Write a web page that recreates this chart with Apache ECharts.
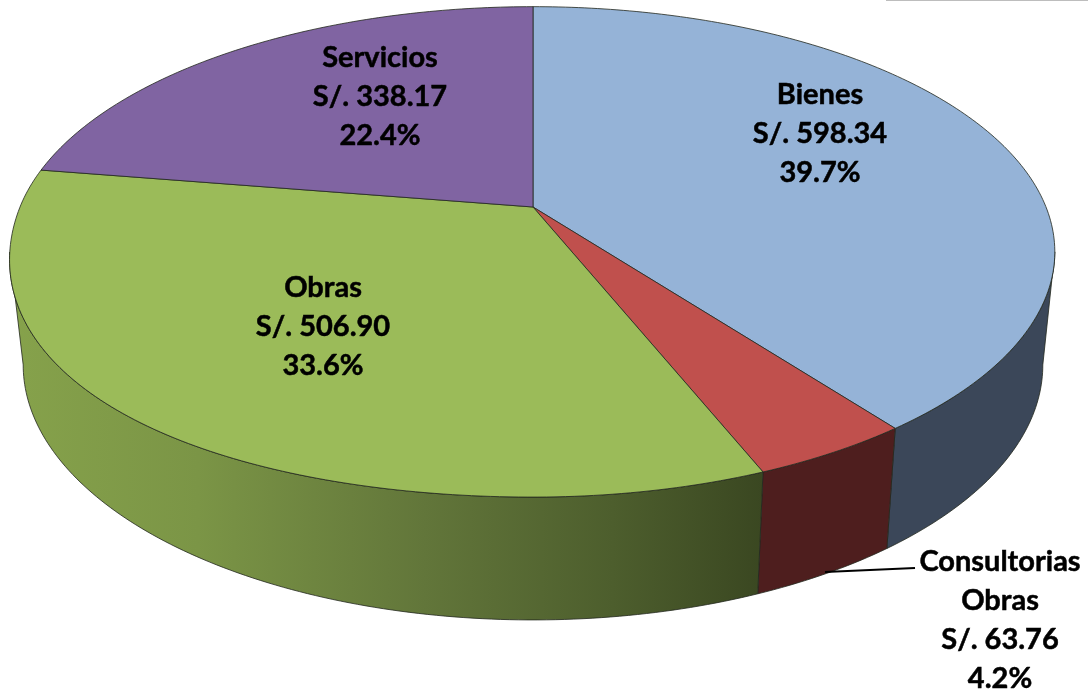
<!DOCTYPE html>
<html>
<head>
<meta charset="utf-8">
<style>html,body{margin:0;padding:0;background:#fff}#c{width:1088px;height:690px}</style>
<script src="https://cdn.jsdelivr.net/npm/echarts@6/dist/echarts.min.js"></script>
</head>
<body>
<div id="c"></div>
<script>
// Data
const categories = ['Bienes', 'Consultorias\nObras', 'Obras', 'Servicios'];
const amounts = [598.34, 63.76, 506.90, 338.17];
const amountLabels = ['S/. 598.34', 'S/. 63.76', 'S/. 506.90', 'S/. 338.17'];
const percentLabels = ['39.7%', '4.2%', '33.6%', '22.4%'];

// Style and layout
const topColors = ['#95b3d7', '#c0504d', '#9bbb59', '#8064a2'];
const sideColors = ['#3b4759', '#4e1e1e', null, '#4a3a60'];
const labelCenters = [[820, 134], [1000, 620], [323, 327], [380, 97]];
const cx = 533, apexY = 207, A = 513, B = 237, k = 0.183;
const depth = 113, depthGrow = 0.04, sideScale = 0.977;
const edge = 'rgba(35,40,30,0.8)';
const frontStart = Math.acos(-k), frontEnd = 2 * Math.PI - Math.acos(-k);

const total = amounts.reduce((a, b) => a + b, 0);
const starts = [];
amounts.reduce((acc, v, i) => { starts[i] = acc; return acc + v; }, 0);

function project(theta, r) {
  const u = Math.sin(theta) * r, v = -Math.cos(theta) * r;
  const w = 1 - k * v;
  return [cx + A * u / w, apexY + B * v / w];
}
// the upper rim bulges slightly at the lower left in the reference
function topPoint(theta) {
  let r = 1;
  if (theta > Math.PI && theta < 1.5 * Math.PI) {
    r += 0.02 * Math.pow(Math.sin(2 * (theta - Math.PI)), 2);
  }
  return project(theta, r);
}
function bottomPoint(theta) {
  const p = project(theta, 1);
  return [cx + (p[0] - cx) * sideScale, p[1] + depth + (p[1] - 251) * depthGrow];
}
function arc(a0, a1, fn) {
  const n = Math.max(2, Math.ceil((a1 - a0) / 0.015));
  const pts = [];
  for (let i = 0; i <= n; i++) pts.push(fn(a0 + (a1 - a0) * i / n));
  return pts;
}
const greenSide = new echarts.graphic.LinearGradient(0, 0, 1, 0, [
  { offset: 0, color: '#86a24b' },
  { offset: 0.25, color: '#7b9546' },
  { offset: 0.55, color: '#62763a' },
  { offset: 0.8, color: '#4d5e2d' },
  { offset: 1, color: '#3a4721' }
]);

function renderSlice(params, api) {
  const i = params.dataIndex;
  const a0 = starts[i] / total * Math.PI * 2;
  const a1 = (starts[i] + api.value(0)) / total * Math.PI * 2;
  const wedge = [[cx, apexY]].concat(arc(a0, a1, topPoint));
  const c = labelCenters[i];
  const children = [];
  const s0 = Math.max(a0, frontStart), s1 = Math.min(a1, frontEnd);
  if (s1 > s0) {
    const sidePts = arc(s0, s1, topPoint).concat(arc(s0, s1, bottomPoint).reverse());
    children.push({ type: 'polygon', z2: 1 + i, shape: { points: sidePts },
      style: { fill: sideColors[i] || greenSide, stroke: edge, lineWidth: 1 } });
  }
  children.push({ type: 'polygon', z2: 10 + i, shape: { points: wedge },
    style: { fill: topColors[i], stroke: edge, lineWidth: 1 } });
  children.push({ type: 'text', z2: 30, x: c[0], y: c[1],
    style: {
      text: categories[i] + '\n' + amountLabels[i] + '\n' + percentLabels[i],
      font: 'bold 29px Lato, sans-serif', fill: '#000', stroke: '#000', lineWidth: 0.5,
      align: 'center', verticalAlign: 'middle', lineHeight: 39
    } });
  return { type: 'group', children };
}

const chart = echarts.init(document.getElementById('c'), null, { renderer: 'canvas' });
chart.setOption({
  animation: false,
  backgroundColor: '#fff',
  graphic: [
    { type: 'line', z: 50, shape: { x1: 825, y1: 572, x2: 915, y2: 568 }, style: { stroke: '#000', lineWidth: 2 } },
    { type: 'line', z: 50, shape: { x1: 886, y1: 0.5, x2: 1088, y2: 0.5 }, style: { stroke: '#bdbdbd', lineWidth: 1 } }
  ],
  series: [{
    type: 'custom',
    coordinateSystem: 'none',
    renderItem: renderSlice,
    encode: { value: 0 },
    data: amounts.map(v => [v])
  }]
});
</script>
</body>
</html>
